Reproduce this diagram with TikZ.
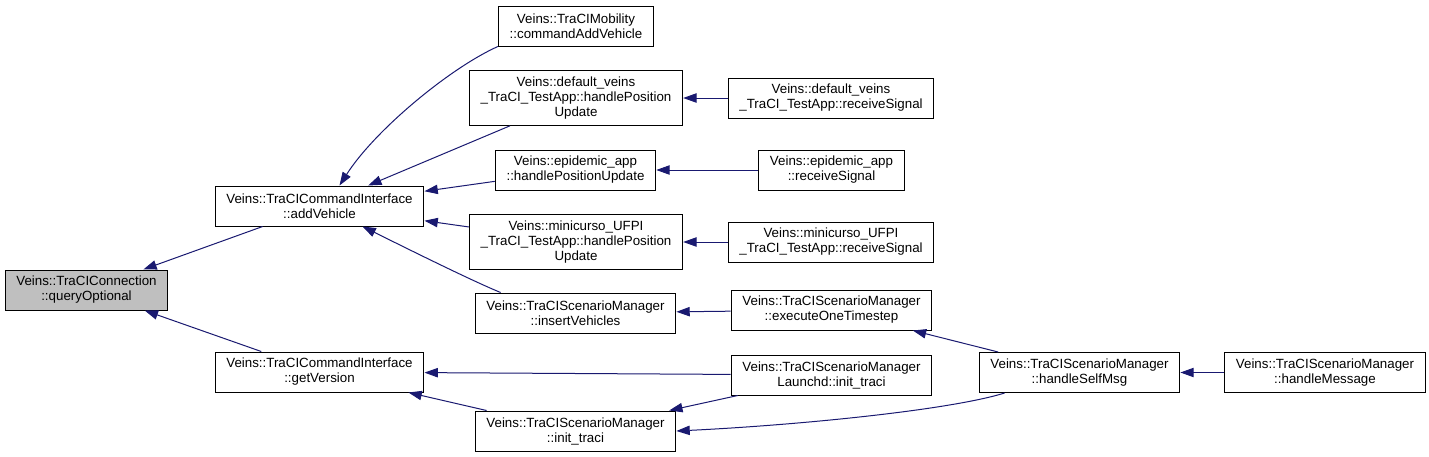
\documentclass[tikz,border=0pt]{standalone}
\usepackage{fontspec}
\setmainfont{Liberation Sans}
\usetikzlibrary{arrows.meta,calc}
\definecolor{edgeblue}{RGB}{25,25,112}
\begin{document}
\begin{tikzpicture}[x=0.75pt,y=-0.75pt,
  fn/.style={draw=black,line width=0.75pt,fill=white,align=center,
    inner xsep=8.5pt,inner ysep=4.6pt,minimum height=30pt,
    font=\fontsize{10}{11.25}\selectfont},
  cur/.style={fn,fill=gray!50},
  call/.style={draw=edgeblue,line width=0.75pt,-{Triangle[length=10pt,width=7pt]}}]
\useasboundingbox (0,0) rectangle (1429,457);

\node[cur] (qopt) at (86.5,290) {Veins::TraCIConnection\\::queryOptional};

\node[fn] (addv) at (319.5,206) {Veins::TraCICommandInterface\\::addVehicle};
\node[fn] (getv) at (319.5,372) {Veins::TraCICommandInterface\\::getVersion};

\node[fn] (cmdadd) at (576,26) {Veins::TraCIMobility\\::commandAddVehicle};
\node[fn] (defhpu) at (576,98) {Veins::default\_veins\\\_TraCI\_TestApp::handlePosition\\Update};
\node[fn] (epihpu) at (575.5,170) {Veins::epidemic\_app\\::handlePositionUpdate};
\node[fn] (minhpu) at (576,242) {Veins::minicurso\_UFPI\\\_TraCI\_TestApp::handlePosition\\Update};
\node[fn] (insv) at (575.5,313) {Veins::TraCIScenarioManager\\::insertVehicles};
\node[fn] (initt) at (575.5,431) {Veins::TraCIScenarioManager\\::init\_traci};

\node[fn] (defrs) at (831,98) {Veins::default\_veins\\\_TraCI\_TestApp::receiveSignal};
\node[fn] (epirs) at (831.5,170) {Veins::epidemic\_app\\::receiveSignal};
\node[fn] (minrs) at (831,242) {Veins::minicurso\_UFPI\\\_TraCI\_TestApp::receiveSignal};
\node[fn] (exec) at (831.5,310) {Veins::TraCIScenarioManager\\::executeOneTimestep};
\node[fn] (lnch) at (831.5,375) {Veins::TraCIScenarioManager\\Launchd::init\_traci};

\node[fn] (selfmsg) at (1079.5,372.5) {Veins::TraCIScenarioManager\\::handleSelfMsg};
\node[fn] (hmsg) at (1325,372.5) {Veins::TraCIScenarioManager\\::handleMessage};

\draw[call] (addv) -- (qopt);
\draw[call] (getv) -- (qopt);

\draw[call] (cmdadd.south west) .. controls (450,68) and (375,130) .. ($(addv.north)+(20,0)$);
\draw[call] (defhpu) -- (addv);
\draw[call] (epihpu) -- (addv);
\draw[call] (minhpu) -- (addv);
\draw[call] ($(insv.north west)+(26,0)$) .. controls (470,280) and (400,245) .. ($(addv.south)+(43,0)$);

\draw[call] (lnch) -- (getv);
\draw[call] (initt) -- (getv);

\draw[call] (defrs) -- (defhpu);
\draw[call] (epirs) -- (epihpu);
\draw[call] (minrs) -- (minhpu);
\draw[call] (exec) -- (insv);
\draw[call] (lnch) -- (initt);

\draw[call] (selfmsg) -- (exec);
\draw[call] ($(selfmsg.south west)+(26,0)$) .. controls (950,410) and (800,425) .. (initt.east);
\draw[call] (hmsg) -- (selfmsg);
\end{tikzpicture}
\end{document}
